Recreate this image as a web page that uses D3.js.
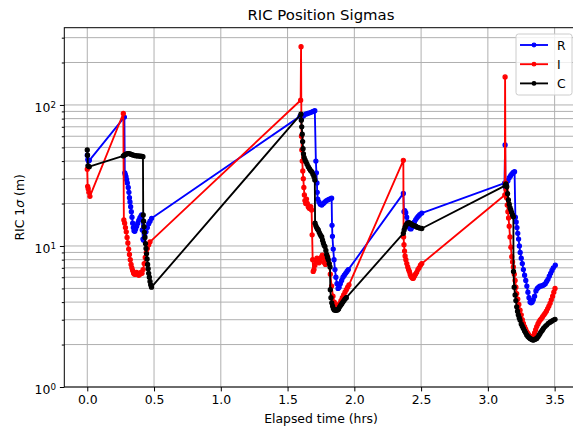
<!DOCTYPE html>
<html lang="en">

<head>
  <meta charset="UTF-8">
  <title>RIC Position Sigmas</title>
  <script src="https://d3js.org/d3.v7.min.js"></script>
  <style>
    body,
    html {
      margin: 0;
      padding: 0;
      overflow: hidden;
      background: #fff;
    }

    text {
      font-family: "DejaVu Sans", sans-serif;
    }
  </style>
</head>

<body>
  <script>
    // elapsed time (hrs), 1-sigma (m)
    const rPts = [
      [0, 44], [0.004, 41], [0.009, 40], [0.016, 40.5],
      [0.278, 82], [0.281, 33], [0.285, 32], [0.29, 31], [0.295, 29.5], [0.3, 28], [0.307, 26], [0.312, 24], [0.316, 22], [0.32, 20.5],
      [0.325, 19], [0.33, 17.5], [0.335, 16], [0.34, 14.5], [0.345, 13.5], [0.35, 12.8], [0.356, 12.7], [0.362, 13.2], [0.37, 13.8],
      [0.378, 14.5], [0.386, 15.2], [0.394, 15.8], [0.402, 16.3], [0.407, 16.6], [0.412, 13], [0.417, 11.2], [0.422, 11], [0.43, 11.8],
      [0.44, 12.6], [0.45, 13.5], [0.46, 14.4], [0.47, 15], [0.482, 15.7],
      [1.593, 83], [1.605, 80], [1.62, 84], [1.635, 86], [1.65, 87], [1.665, 88], [1.68, 89], [1.692, 90], [1.704, 91],
      [1.712, 40], [1.716, 33], [1.72, 28], [1.722, 24], [1.726, 21.5], [1.735, 20.5], [1.745, 19.8], [1.756, 19.5], [1.768, 20],
      [1.78, 20.5], [1.792, 21], [1.805, 21.3], [1.818, 21.6], [1.83, 21.8], [1.833, 14], [1.836, 11.7], [1.842, 9.5], [1.848, 8],
      [1.855, 6.8], [1.862, 6], [1.87, 5.4], [1.878, 5], [1.886, 5.1], [1.895, 5.4], [1.905, 5.7], [1.915, 6], [1.925, 6.2],
      [1.935, 6.4], [1.945, 6.6], [1.955, 6.8],
      [2.367, 23.6], [2.372, 17.5], [2.378, 17.8], [2.385, 17.2], [2.392, 16], [2.4, 14.8], [2.408, 13.8], [2.416, 13.3], [2.424, 13.2],
      [2.432, 13.6], [2.44, 14.2], [2.45, 14.8], [2.46, 15.4], [2.47, 15.9], [2.48, 16.3], [2.49, 16.7], [2.505, 17.1],
      [3.125, 27.9], [3.129, 52], [3.132, 26], [3.14, 27.5], [3.15, 29], [3.16, 30.5], [3.17, 31.5], [3.18, 32.5], [3.19, 33.2], [3.2, 33.6],
      [3.206, 16], [3.212, 14.8], [3.218, 13.5], [3.224, 12.3], [3.23, 11.2], [3.236, 10], [3.242, 9], [3.25, 8.2], [3.258, 7.5],
      [3.266, 6.8], [3.275, 6.2], [3.284, 5.7], [3.292, 5.2], [3.3, 4.7], [3.308, 4.3], [3.316, 4.0], [3.324, 3.95], [3.332, 4.0],
      [3.34, 4.15], [3.35, 4.4], [3.36, 4.8], [3.37, 5.0], [3.38, 5.1], [3.39, 5.2], [3.4, 5.2], [3.41, 5.25], [3.42, 5.3], [3.43, 5.4],
      [3.44, 5.6], [3.45, 5.8], [3.46, 6.1], [3.47, 6.4], [3.48, 6.7], [3.49, 7.0], [3.505, 7.3]
    ];

    const iPts = [
      [0, 35], [0.003, 26.5], [0.007, 25.5], [0.012, 24], [0.02, 22.5],
      [0.27, 87], [0.274, 15.3], [0.28, 14.5], [0.286, 13.5], [0.292, 12.6], [0.298, 11.5], [0.304, 10.5], [0.31, 9.5], [0.316, 8.7],
      [0.322, 8], [0.328, 7.4], [0.334, 7], [0.34, 6.7], [0.347, 6.4], [0.354, 6.3], [0.362, 6.3], [0.37, 6.5], [0.378, 6.3], [0.386, 6.2],
      [0.394, 6.3], [0.402, 6.5], [0.41, 6.4], [0.418, 6.8], [0.426, 7.5], [0.434, 8.3], [0.442, 9], [0.45, 9.6], [0.46, 10.2], [0.47, 10.7],
      [1.598, 108], [1.601, 259], [1.604, 60], [1.607, 48], [1.61, 40], [1.614, 34], [1.618, 30], [1.622, 26], [1.626, 23], [1.63, 21],
      [1.636, 20], [1.642, 21.5], [1.648, 20], [1.655, 19], [1.662, 18.5], [1.668, 18.5], [1.674, 19], [1.68, 18], [1.684, 12], [1.688, 8],
      [1.692, 6.6], [1.698, 6.8], [1.705, 7.3], [1.712, 7.8], [1.72, 8.2], [1.728, 8.0], [1.736, 7.6], [1.744, 7.8], [1.752, 8.3],
      [1.76, 8.6], [1.768, 8.2], [1.776, 7.6], [1.784, 7.4], [1.792, 7.8], [1.8, 8.4], [1.81, 7.5], [1.82, 6.3], [1.83, 5.2], [1.84, 4.4],
      [1.85, 4.0], [1.86, 3.8], [1.87, 3.75], [1.88, 3.8], [1.89, 3.9], [1.9, 4.1], [1.91, 4.3], [1.92, 4.5], [1.93, 4.7], [1.94, 4.9],
      [1.95, 5.1], [1.96, 5.3],
      [2.367, 40.5], [2.369, 11.6], [2.372, 10.2], [2.376, 9.2], [2.38, 8.5], [2.386, 8], [2.393, 7.5], [2.4, 7.1], [2.406, 6.8],
      [2.412, 6.6], [2.418, 6.3], [2.424, 6.1], [2.43, 6.0], [2.436, 5.9], [2.442, 5.9], [2.45, 6.1], [2.458, 6.3], [2.467, 6.5],
      [2.476, 6.8], [2.485, 7.0], [2.495, 7.3], [2.505, 7.5],
      [3.127, 23], [3.129, 158], [3.132, 28], [3.136, 25], [3.14, 22], [3.145, 19.5], [3.15, 17.5], [3.155, 15.8], [3.16, 13.8],
      [3.166, 11.6], [3.172, 9.8], [3.179, 8.4], [3.185, 7.7], [3.191, 7.1], [3.198, 6.3], [3.204, 5.7], [3.21, 5.1], [3.216, 4.6],
      [3.224, 4.2], [3.232, 3.85], [3.241, 3.5], [3.25, 3.25], [3.258, 3.0], [3.266, 2.83], [3.275, 2.68], [3.283, 2.57], [3.291, 2.47],
      [3.3, 2.4], [3.308, 2.33], [3.316, 2.28], [3.325, 2.26], [3.333, 2.26], [3.341, 2.3], [3.35, 2.42], [3.358, 2.55], [3.366, 2.68],
      [3.375, 2.8], [3.383, 2.9], [3.391, 2.98], [3.4, 3.05], [3.41, 3.15], [3.42, 3.25], [3.428, 3.33], [3.438, 3.45], [3.448, 3.6],
      [3.457, 3.75], [3.466, 3.92], [3.475, 4.15], [3.485, 4.4], [3.494, 4.7], [3.503, 5.0]
    ];

    const cPts = [
      [0, 48], [0.002, 44], [0.005, 37], [0.015, 36.5],
      [0.27, 43.5], [0.28, 44.2], [0.29, 44.8], [0.3, 45.2], [0.31, 45.2], [0.32, 45], [0.33, 44.6], [0.34, 44.2], [0.35, 43.9],
      [0.36, 43.7], [0.37, 43.6], [0.38, 43.5], [0.39, 43.4], [0.4, 43.3], [0.41, 43.2], [0.417, 43],
      [0.419, 16.6], [0.422, 15], [0.425, 13.7], [0.428, 12.5], [0.432, 11.5], [0.436, 10.4], [0.44, 9.6], [0.444, 8.8], [0.448, 8.1],
      [0.452, 7.4], [0.456, 6.9], [0.46, 6.4], [0.465, 6.0], [0.47, 5.6], [0.475, 5.3], [0.481, 5.1],
      [1.6, 86], [1.603, 78], [1.606, 70], [1.61, 62], [1.613, 55], [1.616, 49], [1.619, 45], [1.624, 42.5], [1.631, 40.7], [1.638, 39.5],
      [1.646, 38], [1.655, 36.5], [1.664, 35.3], [1.672, 34.3], [1.681, 33.6], [1.69, 32.2], [1.698, 31], [1.704, 29.4],
      [1.706, 14.5], [1.712, 13.9], [1.718, 13.5], [1.724, 13.2], [1.73, 13], [1.737, 12.5], [1.744, 12.1], [1.75, 11.8], [1.756, 11.6],
      [1.762, 11], [1.768, 10.5], [1.774, 10.1], [1.78, 9.9], [1.787, 9.3], [1.793, 8.7], [1.799, 8.3], [1.805, 8], [1.812, 7.5],
      [1.818, 7.1], [1.82, 4.9], [1.825, 4.3], [1.831, 3.95], [1.837, 3.75], [1.843, 3.6], [1.85, 3.52], [1.858, 3.5], [1.866, 3.5],
      [1.874, 3.52], [1.882, 3.58], [1.89, 3.7], [1.898, 3.8], [1.906, 3.9], [1.914, 4.0], [1.922, 4.1], [1.93, 4.2], [1.94, 4.3],
      [2.367, 12.3], [2.373, 13.0], [2.38, 13.6], [2.387, 14.1], [2.395, 14.4], [2.403, 14.6], [2.41, 14.6], [2.418, 14.5],
      [2.426, 14.3], [2.434, 14.1], [2.442, 14.0], [2.45, 13.9], [2.46, 13.8], [2.47, 13.6], [2.48, 13.5], [2.49, 13.4], [2.505, 13.3],
      [3.129, 26.8], [3.135, 27.5], [3.142, 26.3], [3.148, 23.5], [3.154, 21.2], [3.16, 19.8], [3.166, 18.7], [3.172, 18], [3.178, 17.3],
      [3.185, 16.6], [3.191, 16.1], [3.192, 6.6], [3.197, 5.1], [3.204, 4.5], [3.21, 4.1], [3.216, 3.7], [3.222, 3.45], [3.228, 3.25],
      [3.235, 3.1], [3.241, 2.98], [3.25, 2.8], [3.258, 2.7], [3.266, 2.6], [3.275, 2.5], [3.283, 2.42], [3.291, 2.34], [3.3, 2.28],
      [3.308, 2.24], [3.316, 2.21], [3.325, 2.18], [3.333, 2.16], [3.341, 2.15], [3.35, 2.17], [3.358, 2.19], [3.366, 2.21],
      [3.375, 2.27], [3.383, 2.33], [3.391, 2.4], [3.4, 2.47], [3.408, 2.53], [3.416, 2.6], [3.428, 2.68], [3.44, 2.75], [3.453, 2.83],
      [3.466, 2.88], [3.478, 2.93], [3.491, 2.98], [3.503, 3.02]
    ];

    const seriesNames = ["R", "I", "C"];
    const seriesColors = ["blue", "red", "black"];
    const xTicks = [0, 0.5, 1, 1.5, 2, 2.5, 3, 3.5];
    const yTicks = [1, 10, 100];

    const W = 573, H = 432;
    const box = { left: 64.3, right: 578, top: 27.7, bottom: 387 };

    const svg = d3.select("body")
      .append("svg")
      .attr("width", W)
      .attr("height", H);

    svg.append("rect").attr("width", W).attr("height", H).attr("fill", "white");

    const x = d3.scaleLinear().domain([-0.172, 3.675]).range([box.left, box.right]);
    const y = d3.scaleLog().domain([1, 353]).range([box.bottom, box.top]);

    // grid (major x, major+minor y)
    const grid = svg.append("g").attr("stroke", "#b0b0b0").attr("stroke-width", 1);
    grid.selectAll(".gx").data(xTicks).join("line")
      .attr("x1", d => x(d)).attr("x2", d => x(d))
      .attr("y1", box.top).attr("y2", box.bottom);
    grid.selectAll(".gy").data(y.ticks()).join("line")
      .attr("x1", box.left).attr("x2", box.right)
      .attr("y1", d => y(d)).attr("y2", d => y(d));

    svg.append("clipPath").attr("id", "plotClip")
      .append("rect")
      .attr("x", box.left).attr("y", box.top)
      .attr("width", box.right - box.left).attr("height", box.bottom - box.top);

    const plotG = svg.append("g").attr("clip-path", "url(#plotClip)");
    const line = d3.line().x(d => x(d[0])).y(d => y(d[1]));

    [rPts, iPts, cPts].forEach((pts, k) => {
      const col = seriesColors[k];
      plotG.append("path")
        .datum(pts)
        .attr("d", line)
        .attr("fill", "none")
        .attr("stroke", col)
        .attr("stroke-width", 1.86)
        .attr("stroke-linejoin", "round");
      plotG.append("g").selectAll("circle").data(pts).join("circle")
        .attr("cx", d => x(d[0]))
        .attr("cy", d => y(d[1]))
        .attr("r", 2.05)
        .attr("fill", col)
        .attr("stroke", col)
        .attr("stroke-width", 1.2);
    });

    // frame
    svg.append("rect")
      .attr("x", box.left).attr("y", box.top)
      .attr("width", box.right - box.left).attr("height", box.bottom - box.top)
      .attr("fill", "none").attr("stroke", "black").attr("stroke-width", 1);

    // x axis
    const xAxis = svg.append("g")
      .attr("transform", `translate(0,${box.bottom})`)
      .call(d3.axisBottom(x).tickValues(xTicks).tickFormat(d3.format(".1f"))
        .tickSize(4.4).tickPadding(4).tickSizeOuter(0));
    xAxis.select(".domain").remove();
    xAxis.selectAll("text").attr("font-size", "12.4px").attr("fill", "black")
      .style("font-family", "'DejaVu Sans', sans-serif");

    // y axis: minor ticks then majors with 10^k labels
    const minorVals = y.ticks().filter(d => !yTicks.includes(d));
    const yMinor = svg.append("g")
      .attr("transform", `translate(${box.left},0)`)
      .call(d3.axisLeft(y).tickValues(minorVals).tickFormat("").tickSize(2.5).tickSizeOuter(0));
    yMinor.select(".domain").remove();

    const yAxis = svg.append("g")
      .attr("transform", `translate(${box.left},0)`)
      .call(d3.axisLeft(y).tickValues(yTicks).tickFormat("").tickSize(4.4).tickPadding(4).tickSizeOuter(0));
    yAxis.select(".domain").remove();
    yAxis.selectAll(".tick text")
      .attr("font-size", "12.4px").attr("fill", "black")
      .attr("dy", "0.55em")
      .style("font-family", "'DejaVu Sans', sans-serif")
      .each(function (d) {
        const t = d3.select(this);
        t.text("10");
        t.append("tspan").attr("dy", "-0.5em").attr("font-size", "8.7px")
          .text(Math.round(Math.log10(d)));
      });

    // title and labels
    svg.append("text")
      .attr("x", 321).attr("y", 20)
      .attr("text-anchor", "middle")
      .attr("font-size", "14.9px")
      .text("RIC Position Sigmas");

    svg.append("text")
      .attr("x", 321).attr("y", 423)
      .attr("text-anchor", "middle")
      .attr("font-size", "12.4px")
      .text("Elapsed time (hrs)");

    const yl = svg.append("text")
      .attr("transform", `translate(24,${(box.top + box.bottom) / 2}) rotate(-90)`)
      .attr("text-anchor", "middle")
      .attr("font-size", "12.4px");
    yl.append("tspan").text("RIC 1");
    yl.append("tspan").attr("font-style", "italic").text("σ");
    yl.append("tspan").text(" (m)");

    // legend
    const leg = svg.append("g");
    leg.append("rect")
      .attr("x", 516).attr("y", 34)
      .attr("width", 56).attr("height", 61)
      .attr("rx", 2.5)
      .attr("fill", "white").attr("fill-opacity", 0.8)
      .attr("stroke", "#cccccc").attr("stroke-width", 1);
    seriesNames.forEach((name, k) => {
      const ly = 45 + k * 19.2;
      leg.append("line")
        .attr("x1", 520).attr("x2", 548).attr("y1", ly).attr("y2", ly)
        .attr("stroke", seriesColors[k]).attr("stroke-width", 1.86);
      leg.append("circle")
        .attr("cx", 534).attr("cy", ly).attr("r", 1.8)
        .attr("fill", seriesColors[k]).attr("stroke", seriesColors[k]).attr("stroke-width", 1.2);
      leg.append("text")
        .attr("x", 557).attr("y", ly + 4.5)
        .attr("font-size", "12.4px")
        .text(name);
    });
  </script>
</body>

</html>
